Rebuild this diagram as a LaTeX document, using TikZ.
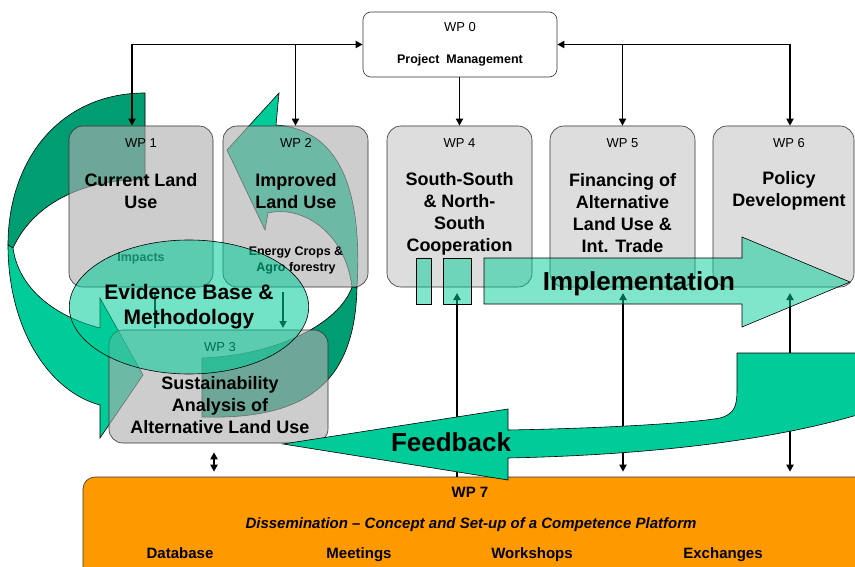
\documentclass[tikz,border=0pt]{standalone}
\usepackage{fontspec}
\setmainfont{Liberation Sans}
\usetikzlibrary{arrows.meta,shapes.geometric}
\definecolor{boxgray}{RGB}{221,221,221}
\definecolor{gridgray}{RGB}{175,175,175}
\definecolor{leaf}{RGB}{0,204,153}
\definecolor{leafdark}{RGB}{0,156,114}
\definecolor{wporange}{RGB}{255,153,0}
\tikzset{
  wpbox/.style={draw=black!80, line width=0.6pt, rounded corners=14pt, fill=boxgray, inner sep=0pt},
  gridbox/.style={wpbox, fill=gridgray, fill opacity=0.62},
  wpnum/.style={font=\fontsize{13}{15}\selectfont},
  wptitle/.style={font=\fontsize{18}{22}\selectfont\bfseries, align=center},
  note/.style={font=\fontsize{12.5}{16}\selectfont\bfseries, align=center},
  big/.style={font=\fontsize{26}{30}\selectfont\bfseries},
  bottomtext/.style={font=\fontsize{15}{18}\selectfont\bfseries, anchor=base},
  link/.style={line width=1.8pt, -{Triangle[length=7pt,width=7pt]}},
  dlink/.style={line width=1.8pt, {Triangle[length=7pt,width=7pt]}-{Triangle[length=7pt,width=7pt]}},
  backleaf/.style={draw=black, line width=0.6pt, fill=leafdark},
  frontleaf/.style={draw=black, line width=0.6pt, fill=leaf},
  glassleaf/.style={draw=black, line width=0.6pt, fill=leaf, fill opacity=0.5}
}
\begin{document}
\begin{tikzpicture}[x=1pt,y=-1pt]
\useasboundingbox (0,0) rectangle (855,567);
\clip (0,0) rectangle (855,567);
\fill[white] (0,0) rectangle (855,567);
% circular arrows behind the left boxes
\filldraw[backleaf] (145,93) -- (145,180) .. controls (90,178) and (35,200) .. (13,248) -- (8,245) .. controls (8,160) and (60,93) .. (145,93) -- cycle;
\filldraw[frontleaf] (8,245) .. controls (8,330) and (50,392) .. (100,405) -- (100,438) -- (143,375) -- (100,298) -- (100,328) .. controls (50,315) and (18,285) .. (13,248) -- cycle;
\filldraw[backleaf] (202,358) -- (202,417) .. controls (310,420) and (355,380) .. (357,287) -- (352,287) .. controls (340,322) and (280,355) .. (202,358) -- cycle;
\filldraw[frontleaf] (357,287) .. controls (362,200) and (345,130) .. (276,125) -- (279,93) -- (227,150) -- (265,230) -- (268,213) .. controls (300,205) and (345,230) .. (352,287) -- cycle;
% work packages
\node[wpbox, fill=white, rounded corners=8pt, minimum width=194pt, minimum height=65pt] (wp0) at (460,44.5) {};
\node[wpnum] (wp0num) at (460,27) {WP 0};
\node[font=\fontsize{12.5}{14}\selectfont\bfseries] (wp0title) at (460,60) {Project\ \ Management};
\node[gridbox, minimum width=144pt, minimum height=161pt] (wp1) at (141,206.5) {};
\node[gridbox, minimum width=145pt, minimum height=161pt] (wp2) at (295.5,206.5) {};
\node[wpbox, minimum width=145pt, minimum height=161pt] (wp4) at (459.5,206.5) {};
\node[wpbox, minimum width=145pt, minimum height=161pt] (wp5) at (622.5,206.5) {};
\node[wpbox, minimum width=141pt, minimum height=161pt] (wp6) at (783.5,206.5) {};
\node[gridbox, minimum width=219pt, minimum height=113pt] (wp3) at (218.5,386.5) {};
\node[wpnum] (wp1num) at (141,143) {WP 1};
\node[wptitle] (wp1title) at (141,191) {Current Land\\Use};
\node[note, text=black!80] (impacts) at (141,258) {Impacts};
\node[wpnum] (wp2num) at (296,143) {WP 2};
\node[wptitle] (wp2title) at (296,191) {Improved\\Land Use};
\node[note] (crops) at (296,260) {Energy Crops \&\\Agro forestry};
\node[wpnum] (wp4num) at (459.5,143) {WP 4};
\node[wptitle] (wp4title) at (459.5,214) {South-South\\\& North-\\South\\Cooperation};
\node[wpnum] (wp5num) at (622.5,143) {WP 5};
\node[wptitle] (wp5title) at (622.5,213) {Financing of\\Alternative\\Land Use \&\\Int. Trade};
\node[wpnum] (wp6num) at (789,143) {WP 6};
\node[wptitle] (wp6title) at (789,191) {Policy\\Development};
\node[wpnum] (wp3num) at (220,347) {WP 3};
\node[wptitle] (wp3title) at (220,405) {Sustainability\\Analysis of\\Alternative Land Use};
% evidence base
\coordinate (e1) at (155,292);
\coordinate (e2) at (283,292);
\draw[line width=1.8pt] (e1) -- ++(0,36);
\draw[link] (e2) -- ++(0,36);
\node[ellipse, draw=black, line width=0.6pt, fill=leaf, fill opacity=0.55, text opacity=1,
  minimum width=212pt, minimum height=134pt, inner sep=0pt,
  font=\fontsize{21}{25}\selectfont\bfseries, align=center] (evid) at (189,307) {Evidence Base \&\\Methodology};
% management links
\coordinate (j1) at (132,44.5);
\coordinate (j2) at (790,44.5);
\draw[dlink] (wp0.west) -- (j1) -- (j1 |- wp1.north);
\draw[link] (wp0.west -| wp2.north) -- (wp2.north);
\draw[link] (wp0.south -| wp4.north) -- (wp4.north);
\draw[dlink] (wp0.east) -- (j2) -- (j2 |- wp6.north);
\draw[link] (wp0.east -| wp5.north) -- (wp5.north);
% links to dissemination
\node[wpbox, fill=wporange, rounded corners=12pt, minimum width=797pt, minimum height=123pt] (wp7) at (481.5,538.5) {};
\coordinate (t4) at (457,293);
\coordinate (t5) at (623,293);
\coordinate (t6) at (790,293);
\draw[link] (t4 |- wp7.north) -- (t4);
\draw[dlink, shorten >=5pt] (t5) -- (t5 |- wp7.north);
\draw[dlink, shorten >=5pt] (t6) -- (t6 |- wp7.north);
% implementation
\filldraw[glassleaf] (484,258) -- (742,258) -- (742,237) -- (850,282) -- (742,327) -- (742,304) -- (484,304) -- cycle;
\node[glassleaf, minimum width=15pt, minimum height=46pt, inner sep=0pt] (sq1) at (423.5,281) {};
\node[glassleaf, minimum width=28pt, minimum height=46pt, inner sep=0pt] (sq2) at (457,281) {};
\node[big] (impl) at (639,284) {Implementation};
% dissemination texts
\node[bottomtext] (wp7num) at (470,497) {WP 7};
\node[bottomtext, font=\fontsize{15}{18}\selectfont\bfseries\itshape] (wp7title) at (471,528) {Dissemination -- Concept and Set-up of a Competence Platform};
\node[bottomtext] (db) at (180,558) {Database};
\node[bottomtext] (meet) at (359,558) {Meetings};
\node[bottomtext] (work) at (532,558) {Workshops};
\node[bottomtext] (exch) at (723,558) {Exchanges};
% feedback
\filldraw[frontleaf] (283,444) -- (508,409) -- (508,430) .. controls (620,428) and (700,422) .. (720,418) .. controls (735,414) and (737,405) .. (737,390) -- (737,353) -- (870,353) -- (870,411) .. controls (780,440) and (650,455) .. (508,458) -- (508,480) -- cycle;
\node[big] (feed) at (451,442) {Feedback};
\coordinate (t3) at (214,460);
\draw[dlink, shorten <=9pt, shorten >=5pt] (t3 |- wp3.south) -- (t3 |- wp7.north);
\end{tikzpicture}
\end{document}
